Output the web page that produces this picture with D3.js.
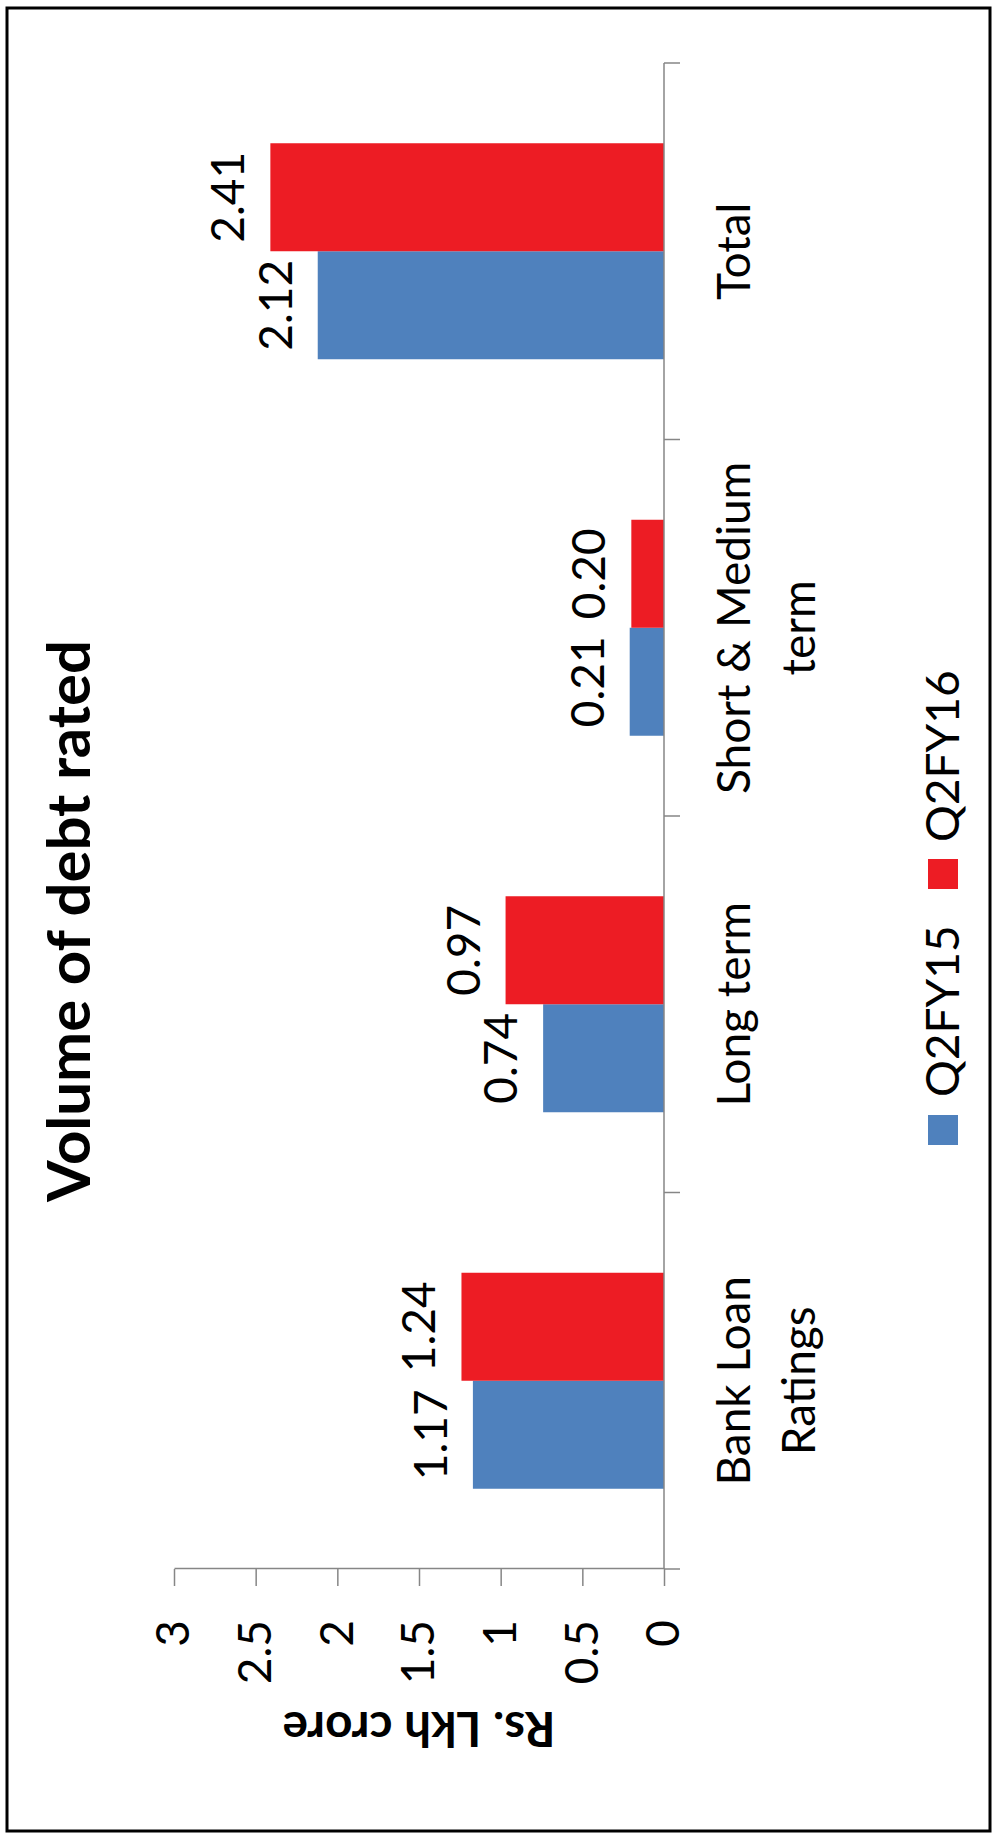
<!DOCTYPE html>
<html>
<head>
<meta charset="utf-8">
<script src="https://cdn.jsdelivr.net/npm/d3@7"></script>
<style>
  html, body { margin: 0; padding: 0; background: #fff; }
  svg { display: block; }
</style>
</head>
<body>
<div id="chart"></div>
<script>
// Volume of debt rated (Rs. Lkh crore), Q2FY15 vs Q2FY16
const categories = ["Bank Loan Ratings", "Long term", "Short & Medium term", "Total"];
const categoryLines = [["Bank Loan", "Ratings"], ["Long term"], ["Short & Medium", "term"], ["Total"]];
const seriesNames = ["Q2FY15", "Q2FY16"];
const q2fy15 = [1.17, 0.74, 0.21, 2.12];
const q2fy16 = [1.24, 0.97, 0.20, 2.41];
const yTicks = [0, 0.5, 1, 1.5, 2, 2.5, 3];
const yTickLabels = ["0", "0.5", "1", "1.5", "2", "2.5", "3"];
const colors = ["#4F81BD", "#ED1C24"];

const pageW = 997, pageH = 1839;
// The chart is laid out landscape and turned a quarter turn on the page
const W = pageH, H = pageW;

const svg = d3.select("#chart").append("svg")
  .attr("width", pageW).attr("height", pageH);

svg.append("rect").attr("width", pageW).attr("height", pageH).attr("fill", "#fff");

const g = svg.append("g").attr("transform", `translate(0,${pageH}) rotate(-90)`);

// outer frame
g.append("rect")
  .attr("x", 8).attr("y", 7)
  .attr("width", W - 16).attr("height", H - 14)
  .attr("fill", "none").attr("stroke", "#000").attr("stroke-width", 3);

const plot = { left: 270, right: 1776, top: 174, bottom: 664 };
const font = "Lato, 'Open Sans', 'DejaVu Sans', sans-serif";
const axisColor = "#868686";

const x0 = d3.scaleBand().domain(categories)
  .range([plot.left, plot.right])
  .paddingInner(0.4263).paddingOuter(0.21315);
const x1 = d3.scaleBand().domain(seriesNames).range([0, x0.bandwidth()]);
const y = d3.scaleLinear().domain([0, 3]).range([plot.bottom, plot.top]);

const rows = categories.map((c, i) => ({ cat: c, lines: categoryLines[i], values: [q2fy15[i], q2fy16[i]] }));

// bars
const groups = g.append("g").selectAll("g").data(rows).join("g")
  .attr("transform", d => `translate(${x0(d.cat)},0)`);

groups.selectAll("rect").data(d => d.values.map((v, k) => ({ s: seriesNames[k], v, k })))
  .join("rect")
  .attr("x", d => x1(d.s))
  .attr("width", x1.bandwidth())
  .attr("y", d => y(d.v))
  .attr("height", d => y(0) - y(d.v))
  .attr("fill", d => colors[d.k]);

// data labels
groups.selectAll("text").data(d => d.values.map((v, k) => ({ s: seriesNames[k], v, k })))
  .join("text")
  .attr("x", d => x1(d.s) + x1.bandwidth() / 2)
  .attr("y", d => y(d.v) - 26)
  .attr("text-anchor", "middle")
  .attr("font-family", font).attr("font-size", 46).attr("fill", "#000")
  .text(d => d3.format(".2f")(d.v));

// value axis
const yAxis = g.append("g")
  .attr("transform", `translate(${plot.left},0)`)
  .call(d3.axisLeft(y).tickValues(yTicks)
    .tickFormat((d, i) => yTickLabels[i])
    .tickSize(17).tickSizeOuter(0).tickPadding(34));
yAxis.select(".domain").attr("stroke", axisColor).attr("stroke-width", 1.5);
yAxis.selectAll(".tick line").attr("stroke", axisColor).attr("stroke-width", 1.5);
yAxis.selectAll(".tick text").attr("font-family", font).attr("font-size", 46).attr("fill", "#000");

// category axis: baseline with ticks between categories
const catAxis = g.append("g");
catAxis.append("line")
  .attr("x1", plot.left).attr("x2", plot.right)
  .attr("y1", y(0)).attr("y2", y(0))
  .attr("stroke", axisColor).attr("stroke-width", 1.5);
const half = (x0.step() - x0.bandwidth()) / 2;
const bounds = categories.map(c => x0(c) - half).concat([x0(categories[categories.length - 1]) + x0.bandwidth() + half]);
catAxis.selectAll("line.tick").data(bounds).join("line")
  .attr("class", "tick")
  .attr("x1", d => d).attr("x2", d => d)
  .attr("y1", y(0)).attr("y2", y(0) + 16)
  .attr("stroke", axisColor).attr("stroke-width", 1.5);

const catLabels = catAxis.selectAll("text").data(rows).join("text")
  .attr("text-anchor", "middle")
  .attr("font-family", font).attr("font-size", 46).attr("fill", "#000");
catLabels.selectAll("tspan").data(d => d.lines.map(l => ({ l, c: d.cat })))
  .join("tspan")
  .attr("x", d => x0(d.c) + x0.bandwidth() / 2)
  .attr("y", (d, i) => 750 + i * 65)
  .text(d => d.l);

// fit a bold label to a target length
function fit(sel, target) {
  const len = sel.node().getComputedTextLength();
  const fs = parseFloat(sel.attr("font-size"));
  sel.attr("font-size", fs * target / len);
}

// chart title
const title = g.append("text")
  .attr("x", 918).attr("y", 90)
  .attr("text-anchor", "middle")
  .attr("font-family", font).attr("font-weight", 700).attr("font-size", 56)
  .attr("fill", "#000")
  .text("Volume of debt rated");
fit(title, 562);

// value axis title
const yTitle = g.append("text")
  .attr("transform", `translate(127,${(plot.top + plot.bottom) / 2}) rotate(-90)`)
  .attr("text-anchor", "middle")
  .attr("font-family", font).attr("font-weight", 700).attr("font-size", 44)
  .attr("fill", "#000")
  .text("Rs. Lkh crore");
fit(yTitle, 273);

// legend
const legendPos = [{ sq: 694, tx: 742 }, { sq: 950, tx: 997 }];
const legend = g.append("g").selectAll("g").data(seriesNames).join("g");
legend.append("rect")
  .attr("x", (d, i) => legendPos[i].sq).attr("y", 928)
  .attr("width", 30).attr("height", 30)
  .attr("fill", (d, i) => colors[i]);
legend.append("text")
  .attr("x", (d, i) => legendPos[i].tx).attr("y", 959)
  .attr("font-family", font).attr("font-size", 46).attr("fill", "#000")
  .text(d => d);
</script>
</body>
</html>
